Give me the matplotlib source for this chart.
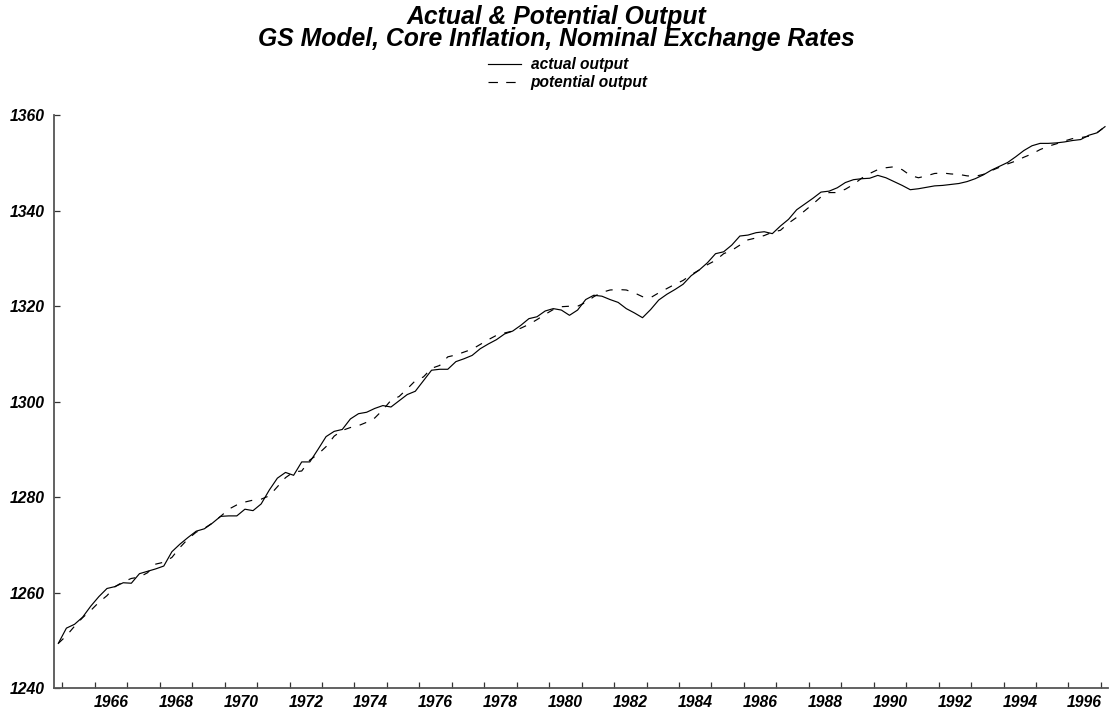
import matplotlib
matplotlib.use("Agg")
import matplotlib.pyplot as plt
import numpy as np
from matplotlib.lines import Line2D

# Quarterly observations, 1964Q4 .. 1997Q1
actual_output = [
    1249.4, 1252.6, 1253.4, 1254.9, 1257.2, 1259.2, 1260.9, 1261.3, 1262.1, 1262.0,
    1264.0, 1264.5, 1265.0, 1265.6, 1268.6, 1270.2, 1271.6, 1272.9, 1273.4, 1274.6,
    1276.0, 1276.1, 1276.1, 1277.5, 1277.2, 1278.6, 1281.5, 1284.0, 1285.2, 1284.6,
    1287.4, 1287.4, 1290.0, 1292.7, 1293.8, 1294.2, 1296.4, 1297.5, 1297.8, 1298.6,
    1299.2, 1298.9, 1300.2, 1301.5, 1302.2, 1304.4, 1306.6, 1306.8, 1306.8, 1308.4,
    1309.0, 1309.7, 1311.1, 1312.1, 1313.0, 1314.2, 1314.8, 1316.0, 1317.4, 1317.8,
    1319.0, 1319.5, 1319.2, 1318.1, 1319.2, 1321.4, 1322.3, 1322.1, 1321.4, 1320.8,
    1319.5, 1318.6, 1317.6, 1319.3, 1321.3, 1322.5, 1323.5, 1324.6, 1326.4, 1327.6,
    1329.1, 1331.0, 1331.4, 1332.8, 1334.7, 1334.9, 1335.4, 1335.6, 1335.2, 1336.8,
    1338.2, 1340.2, 1341.4, 1342.6, 1343.9, 1344.1, 1344.8, 1345.9, 1346.5, 1346.7,
    1346.8, 1347.4, 1346.9, 1346.1, 1345.3, 1344.4, 1344.6, 1344.9, 1345.2, 1345.3,
    1345.5, 1345.7, 1346.1, 1346.7, 1347.5, 1348.5, 1349.3, 1350.1, 1351.3, 1352.6,
    1353.6, 1354.1, 1354.1, 1354.2, 1354.4, 1354.7, 1354.9, 1355.8, 1356.3, 1357.6,
]
potential_output = [
    1249.4, 1251.0, 1253.0, 1254.8, 1256.3, 1258.0, 1259.4, 1261.3, 1262.3, 1263.0,
    1263.3, 1264.2, 1266.0, 1266.4, 1267.4, 1269.5, 1271.3, 1272.7, 1273.5, 1274.6,
    1276.0, 1277.5, 1278.4, 1279.0, 1279.4, 1279.6, 1280.3, 1282.2, 1284.1, 1285.3,
    1285.5, 1287.8, 1289.0, 1290.6, 1292.8, 1294.0, 1294.6, 1295.0, 1295.7, 1296.6,
    1298.3, 1300.3, 1301.1, 1302.7, 1304.4, 1305.2, 1307.0, 1307.6, 1309.4, 1309.8,
    1310.4, 1311.0, 1312.0, 1313.0, 1313.9, 1314.4, 1314.8, 1315.4, 1316.2, 1317.2,
    1318.3, 1319.3, 1319.9, 1320.0, 1320.0, 1320.8, 1322.0, 1322.9, 1323.4, 1323.5,
    1323.4, 1322.8, 1322.0, 1321.8, 1322.8, 1323.7, 1324.6, 1325.4, 1326.6, 1327.6,
    1328.7, 1329.6, 1331.0, 1331.7, 1332.8, 1333.9, 1334.3, 1334.8, 1335.5, 1335.9,
    1337.4, 1338.6, 1340.0, 1341.4, 1342.9, 1343.8, 1343.8, 1344.5, 1345.5, 1346.8,
    1347.8, 1348.6, 1349.0, 1349.2, 1348.6, 1347.4, 1346.9, 1347.3, 1347.8, 1347.9,
    1347.7, 1347.6, 1347.3, 1347.2, 1347.6, 1348.4, 1349.1, 1349.8, 1350.4, 1351.2,
    1351.9, 1352.8, 1353.5, 1354.0, 1354.6, 1355.1, 1355.3, 1355.6, 1356.3, 1357.6,
]
tick_years = list(range(1965, 1998))
label_years = list(range(1966, 1997, 2))
y_ticks = [1240, 1260, 1280, 1300, 1320, 1340, 1360]
series_labels = ["actual output", "potential output"]
title_lines = ["Actual & Potential Output", "GS Model, Core Inflation, Nominal Exchange Rates"]

FONT = "Liberation Sans"
plt.rcParams["font.family"] = [FONT, "DejaVu Sans"]

W, H = 1112, 711
fig = plt.figure(figsize=(W / 100, H / 100), dpi=100)
left, right, bottom, top = 54, 1108, 688.3, 115.2
ax = fig.add_axes([left / W, 1 - bottom / H, (right - left) / W, (bottom - top) / H])

DASH = (0, (6, 7.5))
first_year = 1964.75  # 1964Q4
x = np.arange(len(actual_output))
ax.plot(x, actual_output, color="black", lw=0.85)
ax.plot(x, potential_output, color="black", lw=0.85, linestyle=DASH)

def yr2idx(y):
    return (y - first_year) * 4 - 0.5

ax.set_xlim(-0.53, 129.37)
ax.set_ylim(1240, 1360)

ax.set_xticks([yr2idx(y) for y in tick_years])
ax.set_xticklabels([])
ax.set_xticks([yr2idx(y) + 2 for y in label_years], [str(y) for y in label_years], minor=True)
ax.tick_params(axis="x", which="major", direction="in", length=4, width=0.9, color="#333333")
ax.tick_params(axis="x", which="minor", length=0, pad=4.5)
ax.set_yticks(y_ticks, [str(v) for v in y_ticks])
ax.tick_params(axis="y", direction="in", length=4, width=0.9, color="#333333", pad=7)
for lab in ax.get_xticklabels(minor=True) + ax.get_yticklabels():
    lab.set_fontweight("bold")
    lab.set_fontstyle("italic")
    lab.set_fontsize(11.3)

for s in ["top", "right"]:
    ax.spines[s].set_visible(False)
for s in ["left", "bottom"]:
    ax.spines[s].set_color("#555555")
    ax.spines[s].set_linewidth(1.3)

fig.text(0.5, 1 - 28 / H, "\n".join(title_lines), ha="center", va="center",
         fontsize=17.8, fontweight="bold", fontstyle="italic", linespacing=0.85,
         multialignment="center")

handles = [Line2D([], [], color="black", lw=0.85),
           Line2D([], [], color="black", lw=0.85, linestyle=(0, (8, 7)))]
leg = fig.legend(handles, series_labels, loc="upper left",
                 bbox_to_anchor=(488 / W, 1 - 57 / H), frameon=False, borderpad=0,
                 borderaxespad=0,
                 handlelength=2.15, handletextpad=0.6, labelspacing=0.2,
                 prop={"family": FONT, "weight": "bold", "style": "italic", "size": 11.2})

fig.savefig("out.png", dpi=100)
